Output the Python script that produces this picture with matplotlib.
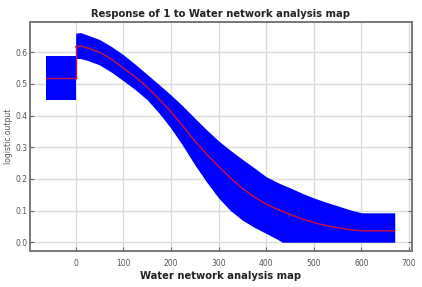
import matplotlib
matplotlib.use("Agg")
import matplotlib.pyplot as plt
import numpy as np

# baseline category (left block)
base_x = [-63, 0]
base_mean = [0.52, 0.52]
base_lo = [0.448, 0.448]
base_hi = [0.588, 0.588]

# response curve
curve_x = [0, 10, 25, 50, 75, 100, 125, 150, 175, 200, 225, 250, 275, 300, 325, 350,
           375, 400, 425, 434, 450, 475, 500, 525, 550, 575, 600, 670]
curve_mean = [0.617, 0.62, 0.613, 0.60, 0.578, 0.55, 0.522, 0.49, 0.452, 0.412, 0.367, 0.32,
              0.278, 0.24, 0.203, 0.17, 0.143, 0.12, 0.103, 0.098, 0.088, 0.074, 0.062,
              0.053, 0.046, 0.04, 0.036, 0.036]
curve_hi = [0.66, 0.662, 0.654, 0.64, 0.618, 0.592, 0.562, 0.53, 0.498, 0.465, 0.43, 0.392,
            0.355, 0.32, 0.29, 0.262, 0.235, 0.207, 0.188, 0.182, 0.172, 0.155, 0.14,
            0.127, 0.115, 0.103, 0.093, 0.093]
curve_lo = [0.58, 0.58, 0.574, 0.56, 0.537, 0.51, 0.482, 0.45, 0.408, 0.36, 0.305, 0.245,
            0.19, 0.14, 0.1, 0.07, 0.047, 0.028, 0.008, 0.0, 0.0, 0.0, 0.0, 0.0, 0.0, 0.0, 0.0, 0.0]

fig = plt.figure(figsize=(4.22, 2.87), dpi=100)
ax = fig.add_axes([0.071, 0.125, 0.905, 0.798])

ax.fill_between(base_x, base_lo, base_hi, color="#0000ff", lw=0)
ax.fill_between(curve_x, curve_lo, curve_hi, color="#0000ff", lw=0)
ax.plot(base_x, base_mean, color="#d0103a", lw=1)
ax.plot(curve_x, curve_mean, color="#d0103a", lw=1)
ax.plot([0, 0], [base_mean[-1], curve_mean[0]], color="#d0103a", lw=1)

ax.set_xlim(-96, 706)
ax.set_ylim(-0.028, 0.695)
ax.set_xticks(np.arange(0, 701, 100))
ax.set_yticks(np.arange(0, 0.61, 0.1))
ax.yaxis.set_major_formatter(matplotlib.ticker.FormatStrFormatter("%.1f"))
ax.grid(True, color="#dcdcdc", lw=1)
ax.set_axisbelow(True)
ax.tick_params(direction="in", length=3, width=0.8, color="#666666",
               labelsize=5.5, labelcolor="#555555", top=False, right=True)
ax.tick_params(axis="x", pad=6)
ax.tick_params(axis="y", pad=2)
for s in ax.spines.values():
    s.set_color("#777777")
    s.set_linewidth(1.4)

ax.set_title("Response of 1 to Water network analysis map", fontsize=7.2,
             fontweight="bold", color="#222222", pad=4)
ax.set_xlabel("Water network analysis map", fontsize=7.2, fontweight="bold",
              color="#222222", labelpad=2)
ax.set_ylabel("logistic output", fontsize=5.5, color="#555555")
ax.yaxis.set_label_coords(-0.045, 0.5)

fig.savefig("out.png", dpi=100, facecolor="white")
